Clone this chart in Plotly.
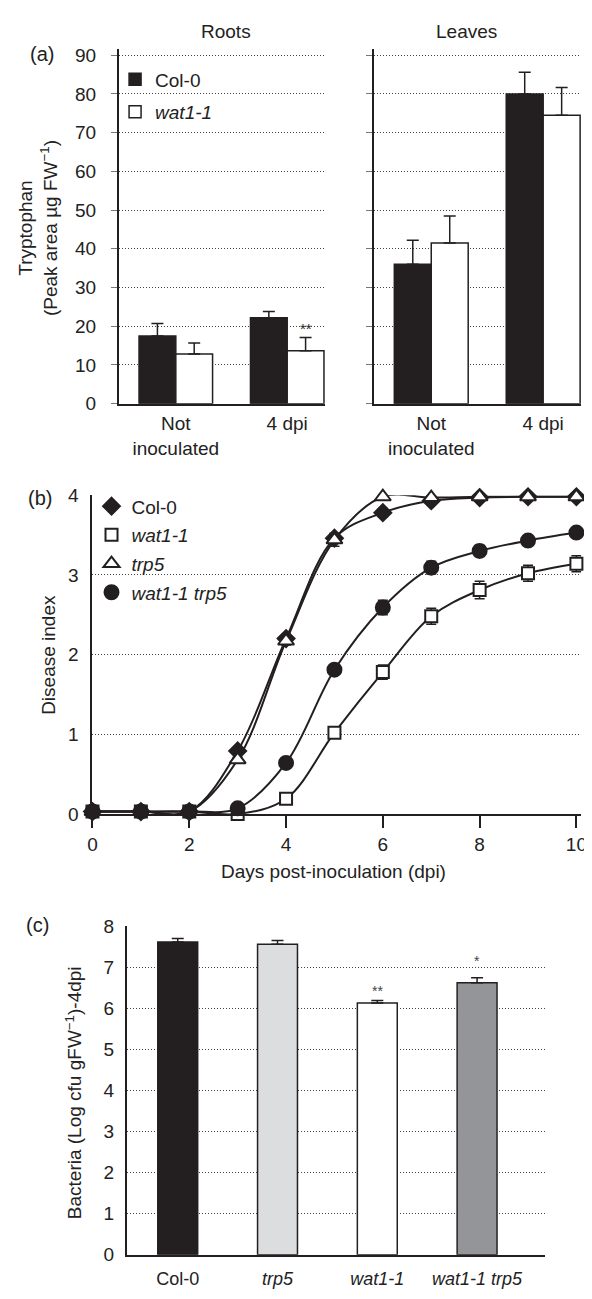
import plotly.graph_objects as go

W, H = 592, 1299
FONT = "Liberation Sans, Arial, sans-serif"
BLACK = "#231f20"
TXT = "#222222"
FS = 19
OFF = 8  # page body margin offset (px) applied when the page is displayed


def fx(p):
    return (p - OFF) / W


def fy(p):
    return 1 - (p - OFF) / H


# ---------------- Panel (a) data ----------------
groups_a = ["Not<br>inoculated", "4 dpi"]
roots_col0 = [17.5, 22.2]
roots_col0_err = [3.2, 1.6]
roots_wat = [12.8, 13.7]
roots_wat_err = [2.9, 3.4]
leaves_col0 = [36.0, 80.0]
leaves_col0_err = [6.2, 5.6]
leaves_wat = [41.5, 74.5]
leaves_wat_err = [7.0, 7.2]

# ---------------- Panel (b) data ----------------
days = [0, 1, 2, 3, 4, 5, 6, 7, 8, 9, 10]
di_col0 = [0.03, 0.03, 0.03, 0.79, 2.20, 3.46, 3.78, 3.93, 3.97, 3.98, 3.98]
di_col0_err = [0, 0, 0, 0.03, 0.05, 0.06, 0.05, 0.03, 0.02, 0.02, 0.02]
di_wat = [0.03, 0.03, 0.03, 0.00, 0.19, 1.02, 1.78, 2.48, 2.81, 3.02, 3.14]
di_wat_err = [0, 0, 0, 0.02, 0.03, 0.05, 0.09, 0.10, 0.11, 0.10, 0.10]
di_trp5 = [0.03, 0.03, 0.03, 0.68, 2.17, 3.44, 3.98, 3.97, 3.98, 3.98, 3.98]
di_trp5_err = [0, 0, 0, 0.03, 0.05, 0.08, 0.02, 0.02, 0.02, 0.02, 0.02]
di_double = [0.03, 0.03, 0.03, 0.07, 0.64, 1.81, 2.59, 3.09, 3.30, 3.43, 3.53]
di_double_err = [0, 0, 0, 0.03, 0.03, 0.05, 0.09, 0.08, 0.07, 0.05, 0.04]

# ---------------- Panel (c) data ----------------
genotypes = ["Col-0", "trp5", "wat1-1", "wat1-1 trp5"]
genotype_labels = ["Col-0", "<i>trp5</i>", "<i>wat1-1</i>", "<i>wat1-1 trp5</i>"]
bacteria = [7.61, 7.56, 6.13, 6.62]
bacteria_err = [0.09, 0.09, 0.06, 0.12]
bar_colors_c = [BLACK, "#dcdddf", "#ffffff", "#939598"]

fig = go.Figure()

# ---- (a) roots ----
fig.add_trace(go.Bar(
    x=groups_a, y=roots_col0, name="Col-0", xaxis="x", yaxis="y",
    marker=dict(color=BLACK, line=dict(color=BLACK, width=1.5)),
    error_y=dict(type="data", symmetric=False, array=roots_col0_err,
                 arrayminus=[0, 0], color=BLACK, thickness=1.5, width=6),
    legend="legend", legendgroup="a1", showlegend=True))
fig.add_trace(go.Bar(
    x=groups_a, y=roots_wat, name="<i>wat1-1</i>", xaxis="x", yaxis="y",
    marker=dict(color="white", line=dict(color=BLACK, width=1.5)),
    error_y=dict(type="data", symmetric=False, array=roots_wat_err,
                 arrayminus=[0, 0], color=BLACK, thickness=1.5, width=6),
    legend="legend", legendgroup="a2", showlegend=True))
# ---- (a) leaves ----
fig.add_trace(go.Bar(
    x=groups_a, y=leaves_col0, name="Col-0", xaxis="x2", yaxis="y2",
    marker=dict(color=BLACK, line=dict(color=BLACK, width=1.5)),
    error_y=dict(type="data", symmetric=False, array=leaves_col0_err,
                 arrayminus=[0, 0], color=BLACK, thickness=1.5, width=6),
    showlegend=False))
fig.add_trace(go.Bar(
    x=groups_a, y=leaves_wat, name="wat1-1", xaxis="x2", yaxis="y2",
    marker=dict(color="white", line=dict(color=BLACK, width=1.5)),
    error_y=dict(type="data", symmetric=False, array=leaves_wat_err,
                 arrayminus=[0, 0], color=BLACK, thickness=1.5, width=6),
    showlegend=False))

# ---- (b) lines ----
series_b = [
    ("Col-0", di_col0, di_col0_err, "diamond", BLACK, 13),
    ("<i>wat1-1</i>", di_wat, di_wat_err, "square", "white", 12),
    ("<i>trp5</i>", di_trp5, di_trp5_err, "triangle-up", "white", 14),
    ("<i>wat1-1 trp5</i>", di_double, di_double_err, "circle", BLACK, 14),
]
for name, ys, es, sym, fill, size in series_b:
    fig.add_trace(go.Scatter(
        x=days, y=ys, mode="lines", xaxis="x3", yaxis="y3",
        line=dict(color=BLACK, width=2, shape="spline", smoothing=1.0),
        showlegend=False, hoverinfo="skip", cliponaxis=False))
for i, (name, ys, es, sym, fill, size) in enumerate(series_b):
    fig.add_trace(go.Scatter(
        x=days, y=ys, mode="markers", name=name, xaxis="x3", yaxis="y3",
        marker=dict(symbol=sym, color=fill, size=size,
                    line=dict(color=BLACK, width=2)),
        error_y=dict(type="data", array=es, color=BLACK, thickness=1.5, width=5),
        legend="legend2", legendgroup=f"b{i}", showlegend=True, cliponaxis=False))

# ---- (c) bars ----
fig.add_trace(go.Bar(
    x=genotypes, y=bacteria, xaxis="x4", yaxis="y4", width=0.4,
    marker=dict(color=bar_colors_c, line=dict(color=BLACK, width=1.5)),
    error_y=dict(type="data", symmetric=False, array=bacteria_err,
                 arrayminus=[0, 0, 0, 0], color=BLACK, thickness=1.5, width=6),
    showlegend=False))

grid = dict(showgrid=True, gridcolor="#444444", gridwidth=1, griddash="1px,2px")
tickfont = dict(family=FONT, size=FS, color=TXT)

fig.update_layout(
    width=W, height=H, margin=dict(l=0, r=0, t=0, b=0),
    paper_bgcolor="white", plot_bgcolor="white",
    font=dict(family=FONT, size=FS, color=TXT),
    barmode="group", bargap=0.34, bargroupgap=0,
    xaxis=dict(domain=[fx(116), fx(326)], anchor="y", range=[-0.51, 1.34],
               showline=True, linecolor=BLACK, linewidth=2, ticks="",
               tickfont=tickfont, showgrid=False, ticklabelstandoff=2),
    yaxis=dict(domain=[fy(400), fy(40)], anchor="x", range=[0, 91.5],
               tickvals=[0, 10, 20, 30, 40, 50, 60, 70, 80, 90],
               showline=True, linecolor=BLACK, linewidth=2, ticks="outside",
               ticklen=6, tickcolor="#777", tickfont=tickfont, zeroline=False,
               ticklabelstandoff=11, **grid),
    xaxis2=dict(domain=[fx(376), fx(587)], anchor="y2", range=[-0.51, 1.34],
                showline=True, linecolor=BLACK, linewidth=2, ticks="",
                tickfont=tickfont, showgrid=False, ticklabelstandoff=2),
    yaxis2=dict(domain=[fy(400), fy(40)], anchor="x2", range=[0, 91.5],
                tickvals=[0, 10, 20, 30, 40, 50, 60, 70, 80, 90],
                showticklabels=False,
                showline=True, linecolor=BLACK, linewidth=2, ticks="outside",
                ticklen=6, tickcolor="#777", zeroline=False, **grid),
    xaxis3=dict(domain=[fx(89), fx(587)], anchor="y3", range=[0, 10.1],
                tickvals=[0, 2, 4, 6, 8, 10], showline=True, linecolor=BLACK,
                linewidth=2, ticks="outside", ticklen=12, tickwidth=1.5,
                tickcolor=BLACK, tickfont=tickfont, showgrid=False, zeroline=False),
    yaxis3=dict(domain=[fy(817), fy(493)], anchor="x3", range=[0, 4.0],
                tickvals=[0, 1, 2, 3, 4], showline=True, linecolor=BLACK,
                linewidth=2, ticks="", tickfont=tickfont, zeroline=False,
                ticklabelstandoff=8, **grid),
    xaxis4=dict(domain=[fx(124), fx(550)], anchor="y4", range=[-0.51, 3.68],
                tickvals=genotypes, ticktext=genotype_labels,
                showline=True, linecolor=BLACK, linewidth=2, ticks="",
                tickfont=dict(family=FONT, size=18, color=TXT), showgrid=False,
                ticklabelstandoff=7),
    yaxis4=dict(domain=[fy(1265), fy(931)], anchor="x4", range=[0, 8.0],
                tickvals=[0, 1, 2, 3, 4, 5, 6, 7, 8], showline=True,
                linecolor=BLACK, linewidth=2, ticks="", tickfont=tickfont,
                zeroline=False, ticklabelstandoff=7, **grid),
    legend=dict(x=fx(112), y=fy(51), xanchor="left", yanchor="top",
                font=dict(family=FONT, size=FS, color=TXT),
                bgcolor="rgba(0,0,0,0)", tracegroupgap=5, itemwidth=30),
    legend2=dict(x=fx(88), y=fy(485), xanchor="left", yanchor="top",
                 font=dict(family=FONT, size=FS, color=TXT),
                 bgcolor="rgba(0,0,0,0)", tracegroupgap=1, itemwidth=30),
)

annotations = [
    dict(text="Roots", x=fx(225), y=fy(22)),
    dict(text="Leaves", x=fx(470), y=fy(22)),
    dict(text="(a)", x=fx(38), y=fy(45), font_size=20),
    dict(text="(b)", x=fx(36), y=fy(496), font_size=20),
    dict(text="(c)", x=fx(33), y=fy(930), font_size=20),
    dict(text="Tryptophan<br>(Peak area µg FW<sup>−1</sup>)", x=fx(33), y=fy(222),
         textangle=-90),
    dict(text="Disease index", x=fx(44), y=fy(655), textangle=-90),
    dict(text="Days post-inoculation (dpi)", x=fx(335), y=fy(876)),
    dict(text="Bacteria (Log cfu gFW<sup>−1</sup>)-4dpi", x=fx(70), y=fy(1100),
         textangle=-90),
]
anns = []
for a in annotations:
    fsz = a.pop("font_size", FS)
    d = dict(xref="paper", yref="paper", showarrow=False,
             font=dict(family=FONT, size=fsz, color=TXT),
             xanchor="center", yanchor="middle")
    d.update(a)
    anns.append(d)

# significance markers placed in data coordinates
anns.append(dict(xref="x", yref="y", x=1.165, y=roots_wat[1] + roots_wat_err[1] + 2.2,
                 text="**", showarrow=False, font=dict(family=FONT, size=15, color=TXT)))
anns.append(dict(xref="x4", yref="y4", x=2, y=bacteria[2] + 0.28,
                 text="**", showarrow=False, font=dict(family=FONT, size=14, color="#444")))
anns.append(dict(xref="x4", yref="y4", x=3, y=bacteria[3] + 0.52,
                 text="*", showarrow=False, font=dict(family=FONT, size=14, color="#444")))
fig.update_layout(annotations=anns)

fig.write_html("out.html")
